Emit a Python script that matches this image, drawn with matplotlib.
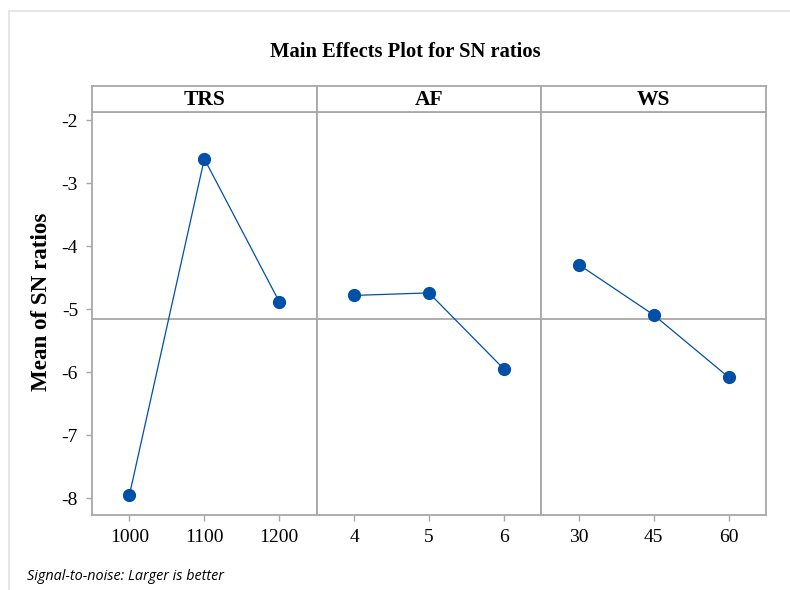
import numpy as np
import matplotlib
matplotlib.use("Agg")
import matplotlib.pyplot as plt
from matplotlib.lines import Line2D

factors = ["TRS", "AF", "WS"]
trs_levels = ["1000", "1100", "1200"]
af_levels = ["4", "5", "6"]
ws_levels = ["30", "45", "60"]
trs_sn = [-7.95, -2.61, -4.88]
af_sn = [-4.78, -4.74, -5.95]
ws_sn = [-4.29, -5.09, -6.08]
y_ticks = [-2, -3, -4, -5, -6, -7, -8]

levels = [trs_levels, af_levels, ws_levels]
values = [trs_sn, af_sn, ws_sn]
overall_mean = float(np.mean(trs_sn + af_sn + ws_sn))

W, H = 790, 590
fig = plt.figure(figsize=(W / 100, H / 100), dpi=100)
serif = "Liberation Serif"
blue = "#0050A8"
gray = "#A8A8A8"

left, right = 92, 766
top_strip, top_data, bottom = 86, 112, 515
pw = (right - left) / 3

def fx(px):
    return px / W

def fy(py):
    return 1 - py / H

# outer frame lines (top and left)
fig.add_artist(Line2D([fx(9), 1], [fy(11), fy(11)], color="#E2E2E2", lw=1.2))
fig.add_artist(Line2D([fx(9), fx(9)], [0, fy(11)], color="#E2E2E2", lw=1.2))

axes = []
for i in range(3):
    x0 = left + i * pw
    ax = fig.add_axes([fx(x0), fy(bottom), pw / W, (bottom - top_data) / H],
                      sharey=axes[0] if axes else None)
    axes.append(ax)
    idx = np.arange(len(levels[i]))
    ax.axhline(overall_mean, color=gray, lw=1.3, zorder=1)
    ax.plot(idx, values[i], color=blue, lw=0.9, marker="o", ms=8.5,
            mfc=blue, mec=blue, zorder=3)
    ax.set_xlim(-0.5, 2.5)
    ax.set_ylim(-8.27, -1.865)
    ax.set_xticks(idx)
    ax.set_xticklabels(levels[i], fontfamily=serif, fontsize=14)
    ax.set_yticks(y_ticks)
    for s in ax.spines.values():
        s.set_color(gray)
        s.set_linewidth(1.3)
    ax.tick_params(axis="both", color=gray, length=4, width=1, pad=6)
    if i == 0:
        ax.set_yticklabels([str(t) for t in y_ticks], fontfamily=serif, fontsize=14)
    else:
        ax.tick_params(axis="y", left=False, labelleft=False)

    # strip
    sa = fig.add_axes([fx(x0), fy(top_data), pw / W, (top_data - top_strip) / H])
    sa.set_xticks([])
    sa.set_yticks([])
    for s in sa.spines.values():
        s.set_color(gray)
        s.set_linewidth(1.3)
    sa.text(0.5, 0.45, factors[i], ha="center", va="center", fontfamily=serif,
            fontweight="bold", fontsize=15.5, transform=sa.transAxes)

fig.text(fx(405), fy(52), "Main Effects Plot for SN ratios", ha="center", va="center",
         fontfamily=serif, fontweight="bold", fontsize=14.8)
fig.text(fx(42), fy(302), "Mean of SN ratios", ha="center", va="center", rotation=90,
         fontfamily=serif, fontweight="bold", fontsize=16.6)
fig.text(fx(27), fy(577), "Signal-to-noise: Larger is better", ha="left", va="center",
         fontfamily="Open Sans", fontstyle="italic", fontsize=10.4)

fig.savefig("out.png", dpi=100, facecolor="white")
